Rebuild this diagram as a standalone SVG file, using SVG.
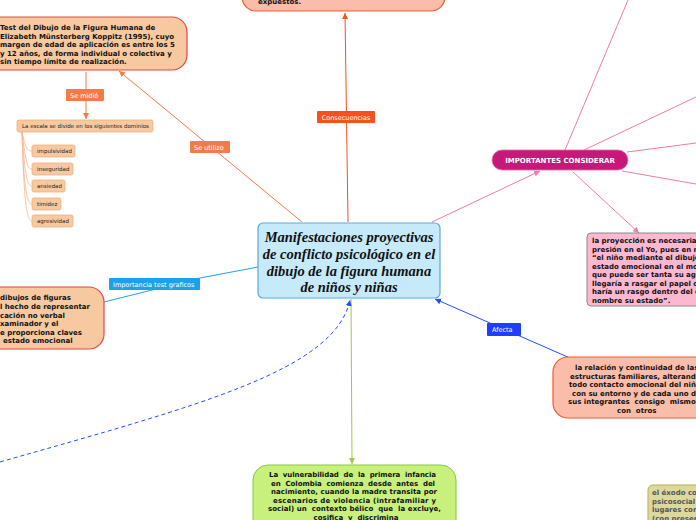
<svg xmlns="http://www.w3.org/2000/svg" width="696" height="520" viewBox="0 0 696 520">
<defs>
<style>
.t{font-family:"DejaVu Sans",Verdana,sans-serif;font-weight:bold;font-size:7px;fill:#111;white-space:pre}
.lbl{font-family:"DejaVu Sans",Verdana,sans-serif;font-size:6.5px;fill:#fff}
.sm{font-family:"DejaVu Sans",Verdana,sans-serif;font-size:5.5px;fill:#222}
.peach{fill:#f6c9a1;stroke:#e8463f;stroke-width:1.2}
.chip{fill:#f6c9a1;stroke:#f2ae80;stroke-width:0.8}
.salmon{fill:#f9bda9;stroke:#f25a2c;stroke-width:1.2}
</style>
<marker id="aOr" markerWidth="8" markerHeight="8" refX="6" refY="4" orient="auto" markerUnits="userSpaceOnUse"><path d="M0,1 L6,4 L0,7 z" fill="#f47b48"/></marker>
<marker id="aRed" markerWidth="8" markerHeight="8" refX="6" refY="4" orient="auto" markerUnits="userSpaceOnUse"><path d="M0,1 L6,4 L0,7 z" fill="#f4511e"/></marker>
<marker id="aPk" markerWidth="8" markerHeight="8" refX="6" refY="4" orient="auto" markerUnits="userSpaceOnUse"><path d="M0,1 L6,4 L0,7 z" fill="#f27aa8"/></marker>
<marker id="aBl" markerWidth="8" markerHeight="8" refX="6" refY="4" orient="auto" markerUnits="userSpaceOnUse"><path d="M0,1 L6,4 L0,7 z" fill="#1f4fff"/></marker>
<marker id="aGr" markerWidth="8" markerHeight="8" refX="6" refY="4" orient="auto" markerUnits="userSpaceOnUse"><path d="M0,1 L6,4 L0,7 z" fill="#9ccc3d"/></marker>
</defs>
<rect width="696" height="520" fill="#fff"/>
<g id="connectors" fill="none">
<line x1="348" y1="222" x2="345" y2="13" stroke="#f4511e" stroke-width="1" marker-end="url(#aRed)"/>
<line x1="302" y1="222" x2="119" y2="71" stroke="#f47b48" stroke-width="1" marker-end="url(#aOr)"/>
<line x1="86" y1="72" x2="86" y2="119" stroke="#f47b48" stroke-width="1" marker-end="url(#aOr)"/>
<g stroke="#f6b58e" stroke-width="0.8">
<path d="M22,132 C26,150 28,151 32,151"/>
<path d="M22,132 C26,165 28,169 32,169"/>
<path d="M22,132 C25,180 28,186 32,186"/>
<path d="M22,132 C24,196 28,204 32,204"/>
<path d="M22,132 C24,212 28,221 32,221"/>
</g>
<path d="M258,267 L200,278 L100,303" stroke="#1aa3e8" stroke-width="1"/>
<line x1="432" y1="222" x2="540" y2="171" stroke="#f27aa8" stroke-width="1" marker-end="url(#aPk)"/>
<g stroke="#f27aa8" stroke-width="1">
<line x1="565" y1="150" x2="628" y2="0"/>
<line x1="584" y1="150" x2="696" y2="97"/>
<line x1="627" y1="152" x2="696" y2="143"/>
<line x1="622" y1="171" x2="696" y2="184"/>
</g>
<line x1="573" y1="172" x2="639" y2="233" stroke="#f27aa8" stroke-width="1" marker-end="url(#aPk)"/>
<line x1="570" y1="358" x2="435" y2="299" stroke="#1f4fff" stroke-width="1" marker-end="url(#aBl)"/>
<line x1="351" y1="299" x2="352" y2="464" stroke="#9ccc3d" stroke-width="1" marker-end="url(#aGr)"/>
<path d="M0,462 C200,405 335,370 350,300" stroke="#1f4fff" stroke-width="1" stroke-dasharray="4,3" marker-end="url(#aBl)"/>
</g>
<g id="central">
<rect x="258" y="223" width="182" height="75" rx="5" fill="#c6eafa" stroke="#5aaadd" stroke-width="1.2"/>
<g font-family="Liberation Serif,Times New Roman,serif" font-weight="bold" font-style="italic" font-size="14.5" fill="#111" text-anchor="middle">
<text x="349" y="242">Manifestaciones proyectivas</text>
<text x="349" y="259">de conflicto psicológico en el</text>
<text x="349" y="276">dibujo de la figura humana</text>
<text x="349" y="292">de niños y niñas</text>
</g>
</g>
<g id="top">
<rect x="242" y="-40" width="203" height="51" rx="14" class="salmon"/>
<text class="t" x="258" y="4">expuestos.</text>
</g>
<g id="lbl-consecuencias">
<rect x="317" y="111" width="58" height="12" rx="1" fill="#f4511e"/>
<text class="lbl" x="346" y="119.5" text-anchor="middle">Consecuencias</text>
</g>
<g id="koppitz">
<rect x="-20" y="17" width="207" height="53" rx="15" class="peach"/>
<text class="t" x="0" y="30">Test del Dibujo de la Figura Humana de</text>
<text class="t" x="0" y="38.5">Elizabeth Münsterberg Koppitz (1995), cuyo</text>
<text class="t" x="0" y="47">margen de edad de aplicación es entre los 5</text>
<text class="t" x="0" y="55.5">y 12 años, de forma individual o colectiva y</text>
<text class="t" x="0" y="64">sin tiempo límite de realización.</text>
</g>
<g id="lbl-seutilizo">
<rect x="190" y="141" width="40" height="12" rx="1" fill="#f47b48"/>
<text class="lbl" x="194" y="149.5">Se utilizo</text>
</g>
<g id="lbl-semidio">
<rect x="66" y="89" width="38" height="12" rx="1" fill="#f47b48"/>
<text class="lbl" x="70" y="97.5">Se midió</text>
</g>
<g id="escala">
<rect x="17" y="120" width="136" height="12" rx="2" class="chip"/>
<text class="sm" x="22" y="128">La escala se divide en los siguientes dominios</text>
</g>
<g id="impulsividad"><rect x="32" y="145" width="43" height="12" rx="2" class="chip"/><text class="sm" x="37" y="153">impulsividad</text></g>
<g id="inseguridad"><rect x="32" y="163" width="41" height="12" rx="2" class="chip"/><text class="sm" x="37" y="171">inseguridad</text></g>
<g id="ansiedad"><rect x="32" y="180" width="33" height="12" rx="2" class="chip"/><text class="sm" x="37" y="188">ansiedad</text></g>
<g id="timidez"><rect x="32" y="198" width="29" height="12" rx="2" class="chip"/><text class="sm" x="37" y="206">timidez</text></g>
<g id="agresividad"><rect x="32" y="215" width="41" height="12" rx="2" class="chip"/><text class="sm" x="37" y="223">agresividad</text></g>
<g id="lbl-importancia">
<rect x="109" y="278" width="91" height="12" rx="1" fill="#1aa3e8"/>
<text class="lbl" x="113" y="286.5">Importancia test graficos</text>
</g>
<g id="dibujos">
<rect x="-20" y="287" width="124" height="62" rx="15" class="peach"/>
<text class="t" x="0" y="300">dibujos de figuras</text>
<text class="t" x="0" y="309">l hecho de representar</text>
<text class="t" x="0" y="317.5">cación no verbal</text>
<text class="t" x="0" y="326">xaminador y el</text>
<text class="t" x="0" y="334.5">e proporciona claves</text>
<text class="t" x="3" y="343">estado emocional</text>
</g>
<g id="importantes">
<rect x="492" y="150" width="136" height="20" rx="10" fill="#c8197a" stroke="#e070a8" stroke-width="0.8"/>
<text class="t" x="560" y="163" text-anchor="middle" style="fill:#fff">IMPORTANTES CONSIDERAR</text>
</g>
<g id="proyeccion">
<rect x="587" y="233" width="140" height="73" rx="4" fill="#fbb8d0" stroke="#8a8a8a" stroke-width="1"/>
<text class="t" x="592" y="243">la proyección es necesaria</text>
<text class="t" x="592" y="251.5">presión en el Yo, pues en n</text>
<text class="t" x="592" y="260">“el niño mediante el dibujo</text>
<text class="t" x="592" y="268.5">estado emocional en el mo</text>
<text class="t" x="592" y="277">que puede ser tanta su agr</text>
<text class="t" x="592" y="285.5">llegaría a rasgar el papel o</text>
<text class="t" x="592" y="294">haría un rasgo dentro del c</text>
<text class="t" x="592" y="302.5">nombre su estado”.</text>
</g>
<g id="lbl-afecta">
<rect x="487" y="323" width="34" height="13" rx="1" fill="#1f3fff"/>
<text class="lbl" x="492" y="332">Afecta</text>
</g>
<g id="relacion">
<rect x="553" y="357" width="170" height="61" rx="15" class="salmon"/>
<text class="t" x="575" y="370">la relación y continuidad de las</text>
<text class="t" x="570" y="378.5">estructuras familiares, alterando</text>
<text class="t" x="569" y="387">todo contacto emocional del niño</text>
<text class="t" x="572" y="395.5">con su entorno y de cada uno de</text>
<text class="t" x="568" y="404">sus integrantes  consigo  mismo</text>
<text class="t" x="617" y="412.5">con  otros</text>
</g>
<g id="vulnerabilidad">
<rect x="253" y="465" width="203" height="70" rx="15" fill="#c8f07c" stroke="#8cc63f" stroke-width="1"/>
<text class="t" x="269" y="477" textLength="167" lengthAdjust="spacing">La  vulnerabilidad  de  la  primera  infancia</text>
<text class="t" x="271" y="485.5" textLength="164" lengthAdjust="spacing">en  Colombia  comienza  desde  antes  del</text>
<text class="t" x="271" y="494" textLength="166" lengthAdjust="spacing">nacimiento, cuando la madre transita por</text>
<text class="t" x="273" y="502.5" textLength="163" lengthAdjust="spacing">escenarios de violencia (intrafamiliar y</text>
<text class="t" x="268" y="511" textLength="173" lengthAdjust="spacing">social) un  contexto bélico  que  la excluye,</text>
<text class="t" x="356" y="519.5" text-anchor="middle">cosifica  y  discrimina</text>
</g>
<g id="exodo">
<rect x="648" y="485" width="80" height="50" rx="5" fill="#dcd89e" stroke="#b5ad58" stroke-width="1"/>
<text class="t" x="652" y="495" style="fill:#555">el éxodo co</text>
<text class="t" x="652" y="503.5" style="fill:#555">psicosocial</text>
<text class="t" x="652" y="512" style="fill:#555">lugares cor</text>
<text class="t" x="652" y="520.5" style="fill:#555">(con preser</text>
</g>
</svg>
